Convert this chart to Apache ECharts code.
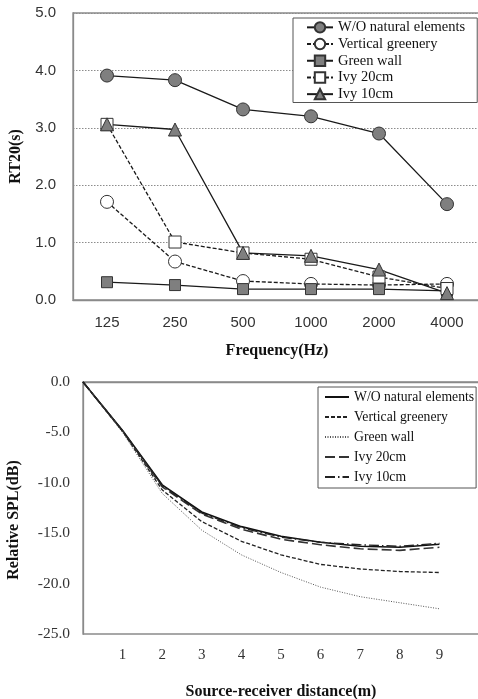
<!DOCTYPE html>
<html lang="en">
<head>
    <meta charset="UTF-8">
    <title>RT20 and relative SPL</title>
    <style>
        body { margin: 0; background: #fff; }
    </style>
    <script src="https://cdn.jsdelivr.net/npm/echarts@6/dist/echarts.min.js"></script>
</head>
<body>
    <div id="main" style="width:478px;height:699px"></div>
    <script>
        // top chart: RT20 per octave band
        var freqs = ['125', '250', '500', '1000', '2000', '4000'];
        var rtNoNature = [3.91, 3.83, 3.32, 3.20, 2.90, 1.67];
        var rtVertical = [1.71, 0.67, 0.33, 0.28, 0.26, 0.28];
        var rtGreenWall = [0.31, 0.26, 0.19, 0.19, 0.19, 0.16];
        var rtIvy20 = [3.06, 1.01, 0.82, 0.71, 0.40, 0.20];
        var rtIvy10 = [3.06, 2.97, 0.82, 0.77, 0.53, 0.12];

        // bottom chart: relative SPL against distance
        var dist = [0, 1, 2, 3, 4, 5, 6, 7, 8, 9];
        var splNoNature = [0, -4.8, -10.2, -12.9, -14.35, -15.3, -15.9, -16.3, -16.4, -16.1];
        var splVertical = [0, -4.9, -10.7, -13.85, -15.8, -17.15, -18.1, -18.55, -18.8, -18.9];
        var splGreenWall = [0, -5.0, -11.05, -14.7, -17.15, -18.9, -20.35, -21.3, -21.9, -22.5];
        var splIvy20 = [0, -4.85, -10.4, -13.1, -14.6, -15.6, -16.15, -16.55, -16.7, -16.4];
        var splIvy10 = [0, -4.85, -10.3, -13.0, -14.45, -15.4, -15.9, -16.15, -16.3, -16.0];

        var names = ['W/O natural elements', 'Vertical greenery', 'Green wall', 'Ivy 20cm', 'Ivy 10cm'];
        // zero-width suffix keeps the two legends apart
        var names2 = names.map(function (n) { return n + '\u200b'; });

        function pairs(xs, ys) {
            return xs.map(function (x, i) { return [x, ys[i]]; });
        }

        var serif = 'Liberation Serif';
        var frame = '#8a8a8a';

        var myChart = echarts.init(document.getElementById('main'));

        function rtSeries(name, data, symbol, size, filled, dashed) {
            return {
                name: name, type: 'line', xAxisIndex: 0, yAxisIndex: 0,
                data: data, symbol: symbol, symbolSize: size,
                lineStyle: { color: '#1a1a1a', width: 1.3, type: dashed ? [4, 2] : 'solid' },
                itemStyle: { color: filled ? '#7f7f7f' : '#ffffff', borderColor: '#333', borderWidth: 1 }
            };
        }

        function splSeries(name, data, dash, width, color) {
            return {
                name: name, type: 'line', xAxisIndex: 1, yAxisIndex: 1,
                data: pairs(dist, data), symbol: 'none', showSymbol: false,
                lineStyle: { color: color, width: width, type: dash },
                itemStyle: { color: color }
            };
        }

        var option = {
            animation: false,
            grid: [
                { left: 73, top: 13, width: 408, height: 287, outerBoundsMode: 'none', show: true, borderColor: frame, borderWidth: 1.3, backgroundColor: '#fff' },
                { left: 83, top: 382, width: 396, height: 252, outerBoundsMode: 'none', show: true, borderColor: frame, borderWidth: 1.3, backgroundColor: '#fff' }
            ],
            legend: [
                {
                    data: names,
                    left: 293, top: 18, orient: 'vertical',
                    padding: [1, 12, 0, 13],
                    itemWidth: 26, itemHeight: 13, itemGap: 0,
                    borderColor: '#555', borderWidth: 1, backgroundColor: '#fff',
                    textStyle: { fontFamily: serif, fontSize: 14.5, color: '#111', lineHeight: 16.7 }
                },
                {
                    data: names2,
                    left: 318, top: 387, orient: 'vertical',
                    padding: [0, 2, 1, 6],
                    itemWidth: 24, itemHeight: 10, itemGap: 0,
                    itemStyle: { opacity: 0 },
                    borderColor: '#555', borderWidth: 1, backgroundColor: '#fff',
                    textStyle: { fontFamily: serif, fontSize: 13.7, color: '#111', lineHeight: 20 }
                }
            ],
            xAxis: [
                {
                    gridIndex: 0, type: 'category', data: freqs, boundaryGap: true,
                    axisLine: { lineStyle: { color: frame, width: 1.3 } },
                    axisTick: { show: false },
                    axisLabel: { margin: 15, fontFamily: 'Liberation Sans', fontSize: 15, color: '#333' },
                    name: 'Frequency(Hz)', nameLocation: 'middle', nameGap: 43,
                    nameTextStyle: { fontFamily: serif, fontWeight: 'bold', fontSize: 16, color: '#111' }
                },
                {
                    gridIndex: 1, type: 'value', min: 0, max: 10, interval: 1,
                    axisLine: { lineStyle: { color: frame, width: 1.3 } },
                    axisTick: { show: false },
                    splitLine: { show: false },
                    axisLabel: {
                        margin: 14, fontFamily: serif, fontSize: 15, color: '#333',
                        formatter: function (v) { return (v === 0 || v === 10) ? '' : String(v); }
                    },
                    name: 'Source-receiver distance(m)', nameLocation: 'middle', nameGap: 50,
                    nameTextStyle: { fontFamily: serif, fontWeight: 'bold', fontSize: 16, color: '#111' }
                }
            ],
            yAxis: [
                {
                    gridIndex: 0, type: 'value', min: 0, max: 5, interval: 1,
                    axisLine: { show: true, lineStyle: { color: frame, width: 1.3 } },
                    axisTick: { show: false },
                    splitLine: { lineStyle: { color: '#8c8c8c', type: [1.5, 1.5], width: 1 } },
                    axisLabel: {
                        margin: 17, fontFamily: 'Liberation Sans', fontSize: 15, color: '#333',
                        formatter: function (v) { return v.toFixed(1); }
                    },
                    name: 'RT20(s)', nameLocation: 'middle', nameGap: 48,
                    nameTextStyle: { fontFamily: serif, fontWeight: 'bold', fontSize: 16, color: '#111' }
                },
                {
                    gridIndex: 1, type: 'value', min: -25, max: 0, interval: 5,
                    axisLine: { show: true, lineStyle: { color: frame, width: 1.3 } },
                    axisTick: { show: false },
                    splitLine: { show: false },
                    axisLabel: {
                        margin: 13, fontFamily: serif, fontSize: 15.5, color: '#333',
                        formatter: function (v) { return v.toFixed(1); }
                    },
                    name: 'Relative SPL(dB)', nameLocation: 'middle', nameGap: 61,
                    nameTextStyle: { fontFamily: serif, fontWeight: 'bold', fontSize: 16, color: '#111', padding: [0, 24, 0, 0] }
                }
            ],
            series: [
                rtSeries(names[0], rtNoNature, 'circle', 13, true, false),
                rtSeries(names[1], rtVertical, 'circle', 13, false, true),
                rtSeries(names[2], rtGreenWall, 'rect', 11, true, false),
                rtSeries(names[3], rtIvy20, 'rect', 12, false, true),
                rtSeries(names[4], rtIvy10, 'triangle', 13, true, false),

                splSeries(names2[0], splNoNature, 'solid', 1.6, '#111'),
                splSeries(names2[1], splVertical, [4, 2], 1.3, '#222'),
                splSeries(names2[2], splGreenWall, [1, 1.5], 1, '#555'),
                splSeries(names2[3], splIvy20, [10, 4], 1.6, '#333'),
                splSeries(names2[4], splIvy10, [10, 3, 1.5, 3], 1.4, '#222')
            ]
        };

        myChart.setOption(option);
    </script>
</body>
</html>
